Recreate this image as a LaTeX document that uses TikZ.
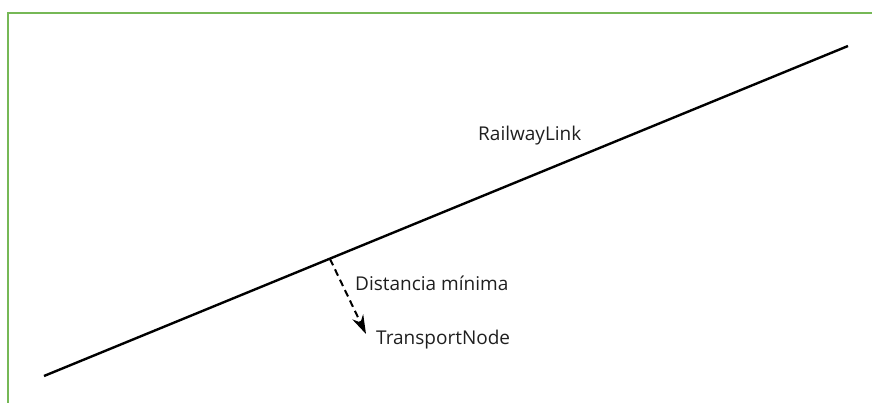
\documentclass[tikz,border=0pt]{standalone}
\usepackage{fontspec}
\setmainfont{Open Sans}
\usepackage{tikz}
\usetikzlibrary{arrows.meta}
\definecolor{framegreen}{RGB}{118,184,86}
\tikzstyle{label} = [anchor=west, inner sep=0pt, font=\fontsize{19pt}{22pt}\selectfont, text=black!88]
\tikzstyle{link} = [line width=2.4pt, black]
\tikzstyle{arrow} = [line width=2pt, dash pattern=on 7pt off 4.5pt, -{Stealth[length=19pt,width=12pt]}]

\begin{document}
\begin{tikzpicture}[x=1pt, y=-1pt]
    \useasboundingbox (0,0) rectangle (872,403);
    % Frame
    \draw [framegreen, line width=2pt] (7.5,403) -- (7.5,13.5) -- (872,13.5);
    % Nodes
    \coordinate (start) at (44,376);
    \coordinate (end) at (848,46);
    \coordinate (foot) at (330,259);
    \coordinate (tip) at (366,334);
    \node (railway) [label] at (478,136) {RailwayLink};
    \node (dist) [label] at (355,283) {Distancia mínima};
    \node (transport) [label] at (376,340) {TransportNode};
    % Arrows
    \draw [link] (start) -- (end);
    \draw [arrow] (foot) -- (tip);
\end{tikzpicture}
\end{document}
